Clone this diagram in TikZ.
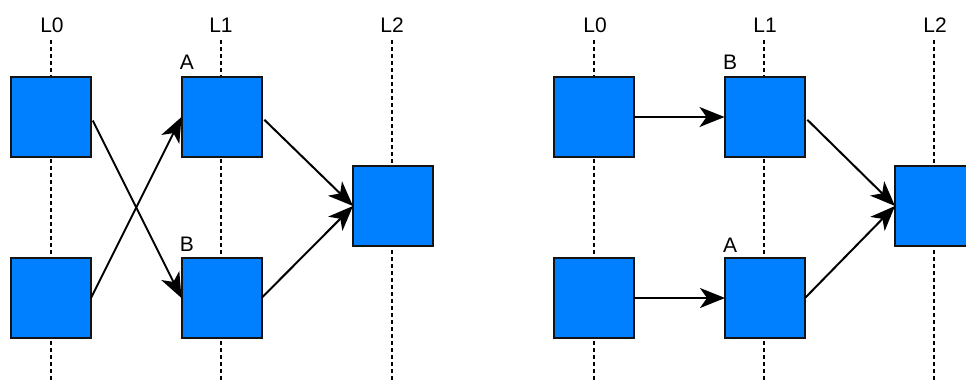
\documentclass[tikz,border=0pt]{standalone}
\usepackage{fontspec}
\setmainfont{Liberation Sans}
\usetikzlibrary{arrows.meta}
\definecolor{boxblue}{HTML}{007FFF}
\definecolor{boxedge}{HTML}{141414}
\tikzset{
  cell/.style={draw=boxedge, line width=2pt, fill=boxblue, minimum size=80pt,
    inner sep=0pt, outer sep=0pt},
  lbl/.style={font=\fontsize{21}{25}\selectfont, inner sep=0pt},
  guide/.style={draw=black, line width=2pt, dash pattern=on 4pt off 3pt},
  link/.style={draw=black, line width=2pt,
    -{Stealth[length=25pt,width=20pt,inset=7pt]}},
  gap/.style={shorten <=4pt}
}
\begin{document}
\begin{tikzpicture}[x=1pt, y=-1pt]
  \useasboundingbox (0,0) rectangle (966,381);
  \clip (0,0) rectangle (966,381);

  % ---- first network: crossed links between L0 and L1 ----
  \node[lbl] (lL0) at (52,25) {L0};
  \node[lbl] (lL1) at (221,25) {L1};
  \node[lbl] (lL2) at (392,25) {L2};
  \coordinate (lg0a) at (51,40);  \coordinate (lg0b) at (51,381);
  \coordinate (lg1a) at (221,40); \coordinate (lg1b) at (221,381);
  \coordinate (lg2a) at (392,40); \coordinate (lg2b) at (392,381);
  \draw[guide] (lg0a) -- (lg0b);
  \draw[guide] (lg1a) -- (lg1b);
  \draw[guide] (lg2a) -- (lg2b);

  \node[cell] (lTop) at (51,117) {};
  \node[cell] (lBot) at (51,298) {};
  \node[cell] (lA)   at (221.5,117) {};
  \node[cell] (lB)   at (221.5,298) {};
  \node[cell] (lOut) at (393,206) {};
  \node[lbl] (lAtxt) at (187,62) {A};
  \node[lbl] (lBtxt) at (187,244) {B};

  \draw[link, gap] (lTop.east) -- (lB.west);
  \draw[link] (lBot.east) -- (lA.west);
  \draw[link, gap] (lA.east) -- (lOut.west);
  \draw[link] (lB.east) -- (lOut.west);

  % ---- second network: straight links between L0 and L1 ----
  \node[lbl] (rL0) at (595,25) {L0};
  \node[lbl] (rL1) at (765,25) {L1};
  \node[lbl] (rL2) at (935,25) {L2};
  \coordinate (rg0a) at (594,40); \coordinate (rg0b) at (594,381);
  \coordinate (rg1a) at (764,40); \coordinate (rg1b) at (764,381);
  \coordinate (rg2a) at (934,40); \coordinate (rg2b) at (934,381);
  \draw[guide] (rg0a) -- (rg0b);
  \draw[guide] (rg1a) -- (rg1b);
  \draw[guide] (rg2a) -- (rg2b);

  \node[cell] (rTop) at (594,117) {};
  \node[cell] (rBot) at (594,298) {};
  \node[cell] (rB)   at (764.5,117) {};
  \node[cell] (rA)   at (765,298) {};
  \node[cell] (rOut) at (935,206) {};
  \node[lbl] (rBtxt) at (730,62) {B};
  \node[lbl] (rAtxt) at (730,245) {A};

  \draw[link] (rTop.east) -- (rB.west);
  \draw[link] (rBot.east) -- (rA.west);
  \draw[link, gap] (rB.east) -- (rOut.west);
  \draw[link] (rA.east) -- (rOut.west);
\end{tikzpicture}
\end{document}
